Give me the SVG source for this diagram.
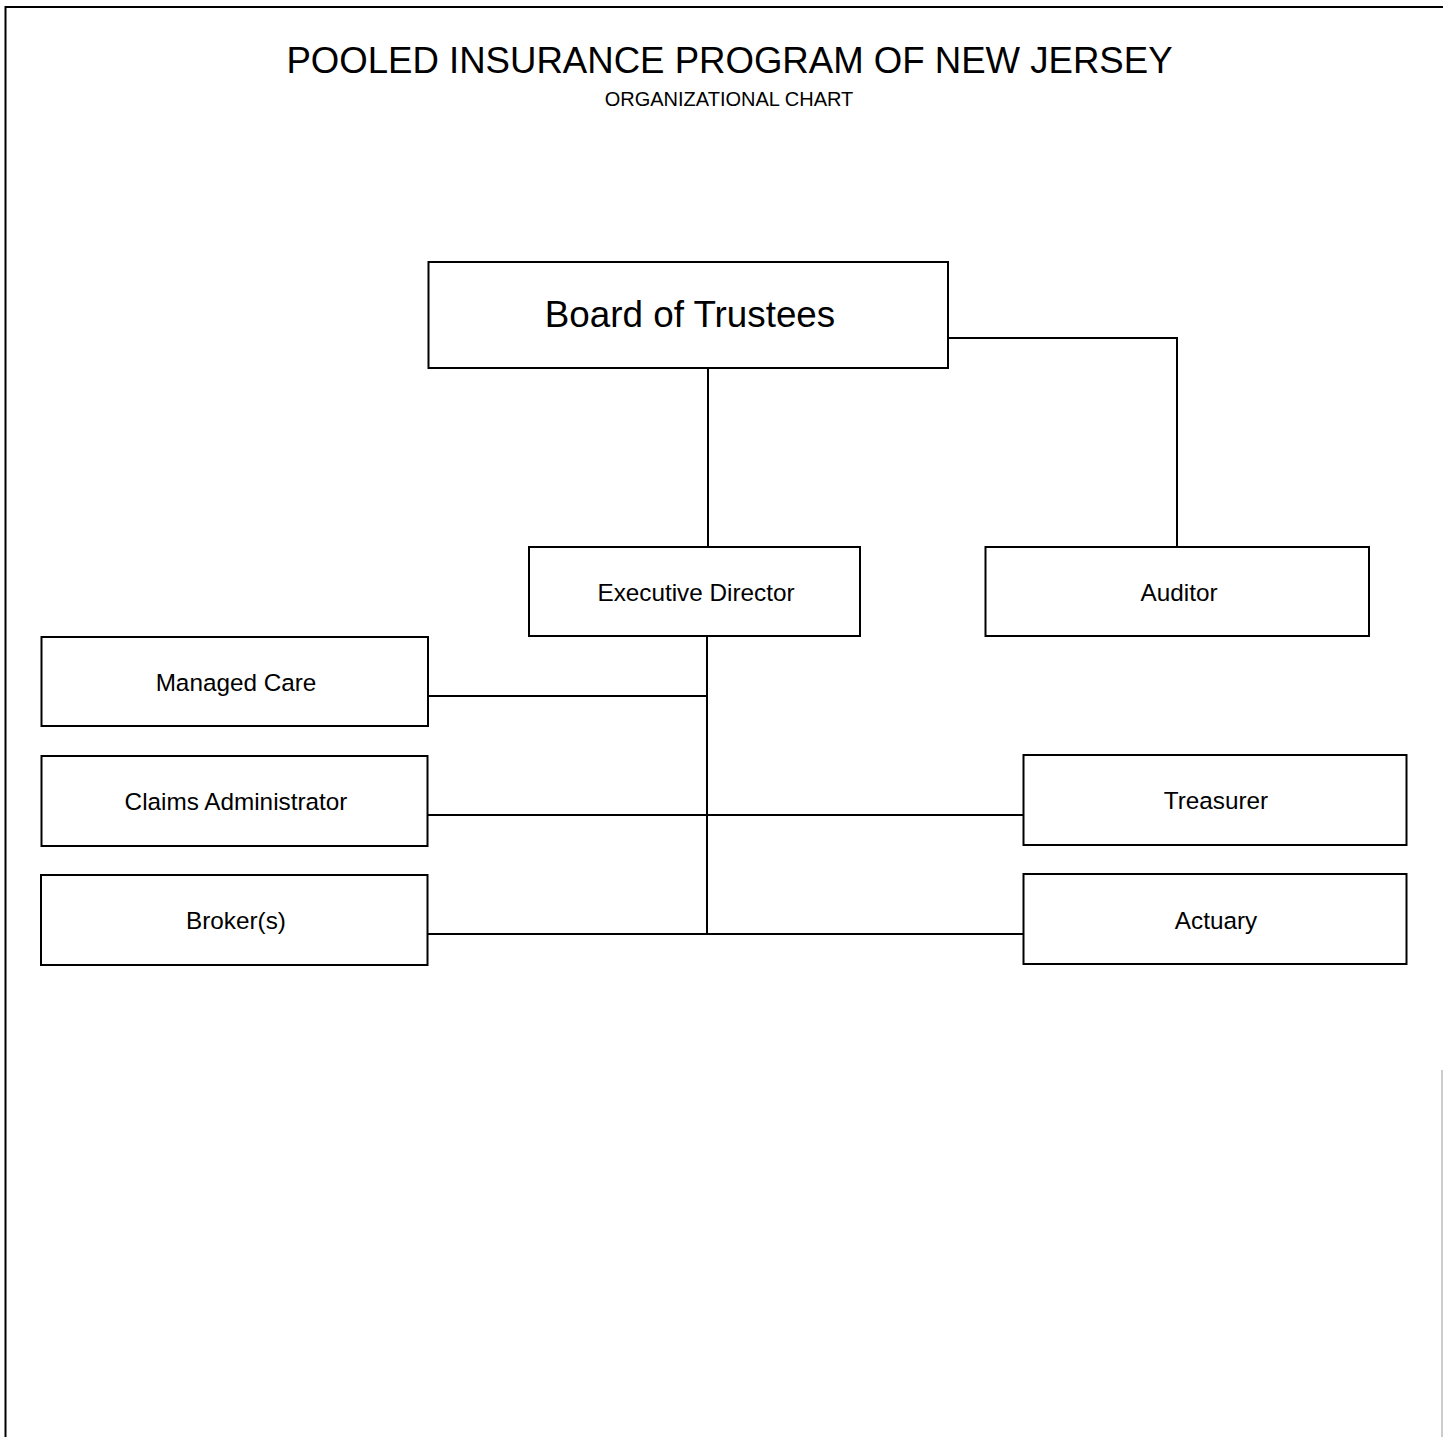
<svg xmlns="http://www.w3.org/2000/svg" width="1443" height="1437" viewBox="0 0 1443 1437">
<style>
.box{fill:#fff;stroke:#000;stroke-width:2}
.ln{fill:none;stroke:#000;stroke-width:2}
.t{font-family:"Liberation Sans",Arial,sans-serif;fill:#000;text-anchor:middle}
.lbl{font-size:24.3px}
</style>
<rect width="1443" height="1437" fill="#fff"/>
<path d="M5.5 1437 V7 H1443" class="ln"/>
<path d="M1442 1070 V1437" fill="none" stroke="#999" stroke-width="1"/>
<text class="t" x="729.5" y="73" font-size="36.6">POOLED INSURANCE PROGRAM OF NEW JERSEY</text>
<text class="t" x="729" y="106" font-size="20">ORGANIZATIONAL CHART</text>
<g id="connectors">
<path class="ln" d="M708 368 V547"/>
<path class="ln" d="M948 338 H1177 V547"/>
<path class="ln" d="M707 636 V934"/>
<path class="ln" d="M428 696 H707"/>
<path class="ln" d="M427 815 H1023"/>
<path class="ln" d="M427 934 H1023"/>
</g>
<g id="board"><rect class="box" x="428.5" y="262" width="519.5" height="106"/><text class="t" x="690" y="327" font-size="36.8">Board of Trustees</text></g>
<g id="exec"><rect class="box" x="529" y="547" width="331" height="89"/><text class="t lbl" x="696" y="601">Executive Director</text></g>
<g id="auditor"><rect class="box" x="985.5" y="547" width="383.5" height="89"/><text class="t lbl" x="1179" y="601">Auditor</text></g>
<g id="managed"><rect class="box" x="41.5" y="637" width="386.5" height="89"/><text class="t lbl" x="236" y="691">Managed Care</text></g>
<g id="claims"><rect class="box" x="41.5" y="756" width="386" height="90"/><text class="t lbl" x="236" y="810">Claims Administrator</text></g>
<g id="brokers"><rect class="box" x="41" y="875" width="386.5" height="90"/><text class="t lbl" x="236" y="929">Broker(s)</text></g>
<g id="treasurer"><rect class="box" x="1023.5" y="755" width="383" height="90"/><text class="t lbl" x="1216" y="809">Treasurer</text></g>
<g id="actuary"><rect class="box" x="1023.5" y="874" width="383" height="90"/><text class="t lbl" x="1216" y="929">Actuary</text></g>
</svg>
